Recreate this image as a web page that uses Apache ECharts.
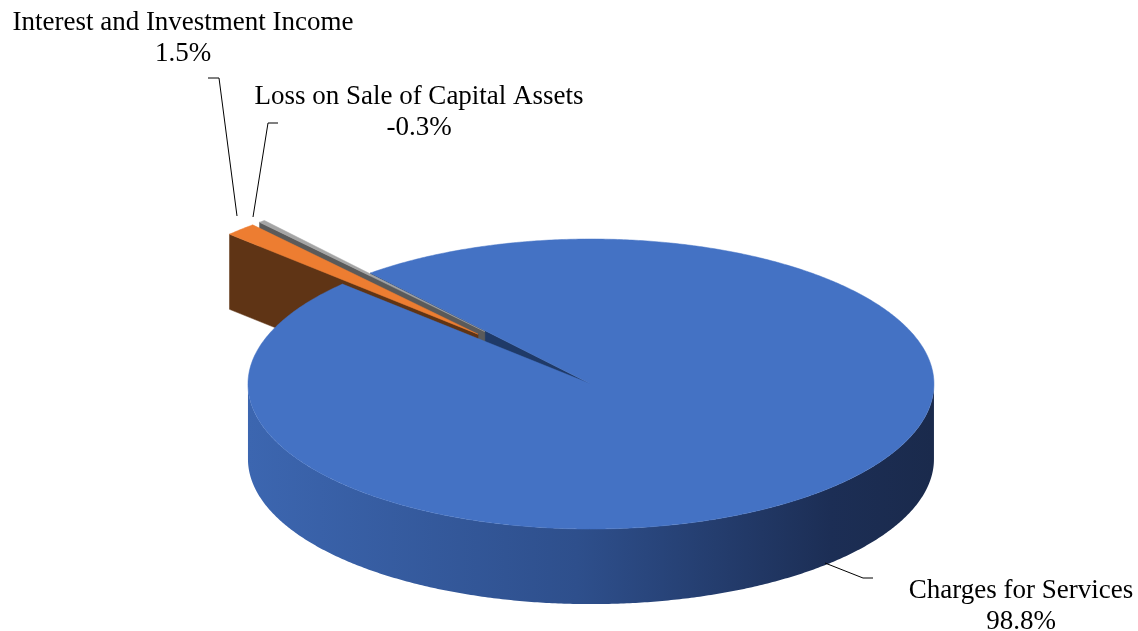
<!DOCTYPE html>
<html>
<head>
<meta charset="utf-8">
<script src="https://cdn.jsdelivr.net/npm/echarts@6/dist/echarts.min.js"></script>
<style>
  html, body { margin: 0; padding: 0; background: #ffffff; }
  #chart { width: 1138px; height: 631px; }
</style>
</head>
<body>
<div id="chart"></div>
<script>
// Revenue shares (percent of total operating revenue)
const categories = ['Charges for Services', 'Interest and Investment Income', 'Loss on Sale of Capital Assets'];
const values = [98.8, 1.5, -0.3];
// Pulled-out distance of each slice, as a fraction of the radius
const explode = [0, 0.476, 0.476];

// Face colours per slice: top, cut side, outer wall (light -> dark)
const topColors = ['#4472C4', '#ED7D31', '#A5A5A5'];
const cutColors = ['#1F3A68', '#5F3415', '#5A5A5A'];
const wallColors = [
  ['#3C66B0', '#2E4F8C', '#1C2E55', '#1A2A4C'],
  ['#C9692A', '#A35420', '#7A3F17', '#6A3713'],
  ['#8C8C8C', '#707070', '#505050', '#454545']
];

// Label layout: anchor of the first text line and leader polyline
const labelLayout = [
  { x: 1021, y: 575, leader: [[825, 563], [863, 578], [873, 578]] },
  { x: 183, y: 7, leader: [[237, 216], [219, 78], [208, 78]] },
  { x: 419, y: 81, leader: [[253, 217], [268, 123], [278, 123]] }
];

// Slice angles: start at 130deg (counter-clockwise from east), run clockwise.
const START = 130;
const total = values.reduce((s, v) => s + Math.abs(v), 0);
const slices = [];
(function () {
  let cum = 0;
  values.forEach((v) => {
    const sweep = Math.abs(v) / total * 360;
    slices.push({ a0: START - cum - sweep, a1: START - cum });
    cum += sweep;
  });
})();

const fmtPct = (v) => v.toFixed(1) + '%';
const rad = (d) => d * Math.PI / 180;

function renderItem(params, api) {
  const i = params.dataIndex;
  const W = api.getWidth();
  const H = api.getHeight();
  const cx = W * 0.5193, cy = H * 0.6086;
  const rx = W * 0.3014, ry = H * 0.2298;
  const depth = H * 0.119;

  const s = slices[i];
  const mid = (s.a0 + s.a1) / 2;
  const e = explode[i];
  const ox = e * rx * Math.cos(rad(mid));
  const oy = -e * ry * Math.sin(rad(mid));

  const P = (deg, r, dz) => [
    cx + ox + rx * r * Math.cos(rad(deg)),
    cy + oy - ry * r * Math.sin(rad(deg)) + (dz || 0)
  ];
  const arc = (from, to, dz) => {
    const n = Math.max(2, Math.ceil(Math.abs(to - from) / 0.5));
    const pts = [];
    for (let k = 0; k <= n; k++) pts.push(P(from + (to - from) * k / n, 1, dz));
    return pts;
  };

  const children = [];
  const exploded = e > 0;
  const baseZ = exploded ? 10 + (values.length - i) * 4 : 0;

  // Cut faces (the radial walls) that turn towards the viewer
  const cutFace = (deg) => ({
    type: 'polygon',
    shape: { points: [P(0, 0, 0), P(deg, 1, 0), P(deg, 1, depth), P(0, 0, depth)] },
    style: { fill: cutColors[i], stroke: cutColors[i], lineWidth: 0.5 },
    z2: exploded ? baseZ + 1 : 2
  });
  if (Math.cos(rad(s.a1)) < 0) children.push(cutFace(s.a1));
  if (Math.cos(rad(s.a0)) > 0) children.push(cutFace(s.a0));

  // Outer curved wall on the front half (180..360 deg)
  for (let k = -1; k <= 1; k++) {
    const f0 = Math.max(s.a0, 180 + 360 * k);
    const f1 = Math.min(s.a1, 360 + 360 * k);
    if (f1 > f0) {
      const pts = arc(f0, f1, 0).concat(arc(f1, f0, depth));
      const c = wallColors[i];
      children.push({
        type: 'polygon',
        shape: { points: pts },
        style: {
          fill: {
            type: 'linear', global: true,
            x: cx + ox - rx, y: 0, x2: cx + ox + rx, y2: 0,
            colorStops: [
              { offset: 0, color: c[0] },
              { offset: 0.48, color: c[1] },
              { offset: 0.85, color: c[2] },
              { offset: 1, color: c[3] }
            ]
          }
        },
        z2: exploded ? baseZ + 2 : 30
      });
    }
  }

  // Top face
  children.push({
    type: 'polygon',
    shape: { points: [P(0, 0, 0)].concat(arc(s.a0, s.a1, 0)) },
    style: { fill: topColors[i], stroke: topColors[i], lineWidth: 0.5 },
    z2: exploded ? baseZ + 3 : 31
  });

  // Data label with leader line
  const L = labelLayout[i];
  children.push({
    type: 'polyline',
    shape: { points: L.leader },
    style: { stroke: '#000000', lineWidth: 1, fill: null },
    z2: 60
  });
  children.push({
    type: 'text',
    x: L.x, y: L.y,
    style: {
      text: categories[i] + '\n' + fmtPct(values[i]),
      fill: '#000000',
      font: '27px "Liberation Serif", "Times New Roman", serif',
      align: 'center',
      verticalAlign: 'top',
      lineHeight: 31
    },
    z2: 61
  });

  return { type: 'group', children: children };
}

const chart = echarts.init(document.getElementById('chart'), null, { renderer: 'canvas' });
chart.setOption({
  animation: false,
  backgroundColor: '#ffffff',
  series: [{
    type: 'custom',
    coordinateSystem: 'none',
    silent: true,
    renderItem: renderItem,
    data: values.map((v, i) => ({ name: categories[i], value: [Math.abs(v)] }))
  }]
});
</script>
</body>
</html>
